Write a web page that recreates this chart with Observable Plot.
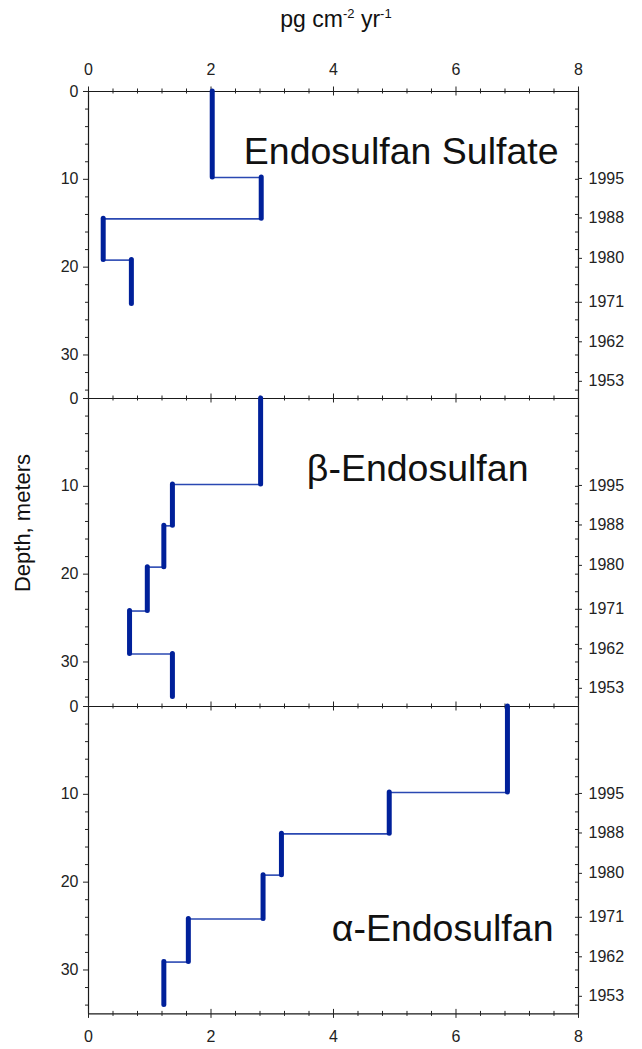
<!DOCTYPE html>
<html><head><meta charset="utf-8">
<script src="https://cdn.jsdelivr.net/npm/d3@7"></script>
<script src="https://cdn.jsdelivr.net/npm/@observablehq/plot@0.6"></script>
<style>
body{margin:0;background:#fff;}
#wrap{position:relative;width:642px;height:1049px;font-family:"Liberation Sans",Arial,sans-serif;color:#111;}
#wrap .panel{position:absolute;left:0;}
#title{position:absolute;top:6px;left:0;width:642px;text-align:center;font-size:23px;padding-left:30px;box-sizing:border-box;}
#title sup{font-size:13px;}
#ylab{position:absolute;left:23px;top:523px;transform:translate(-50%,-50%) rotate(-90deg);font-size:22px;white-space:nowrap;}
</style></head><body>
<div id="wrap">
<div id="title">pg cm<sup>-2</sup> yr<sup>-1</sup></div>
<div id="ylab">Depth, meters</div>
</div>
<script>
// ---- data ----
const layerTop    = [0, 9.8, 14.5, 19.2, 24.2, 29.1];
const layerBottom = [9.8, 14.5, 19.2, 24.2, 29.1, 34.0];
const sulfate = [2.02, 2.82, 0.24, 0.70];
const beta    = [2.81, 1.37, 1.23, 0.96, 0.67, 1.37];
const alpha   = [6.84, 4.91, 3.15, 2.85, 1.63, 1.23];
const panelNames = ["Endosulfan Sulfate", "β-Endosulfan", "α-Endosulfan"];
const years      = ["1995", "1988", "1980", "1971", "1962", "1953"];
const yearDepths = [9.9, 14.4, 19.0, 24.0, 28.5, 33.0];
const xMajor = [0, 2, 4, 6, 8];
const depthMajor = [0, 10, 20, 30];

// ---- layout ----
const W = 642, mL = 88, mR = 64, panelH = 307.4;
const xMinor = d3.range(0, 21).map(k => +(k * 0.4).toFixed(1));
const yMinor = d3.range(0, 18).map(k => k * 2);
const axisColor = "#1a1a1a", tickColor = "#222";
const thick = "#00209a", thin = "#2a48b2";
const font = "Liberation Sans, Arial, sans-serif";
const tickFont = 16, nameFont = 37.5;

function panel(values, name, cfg) {
  const segs = values.map((v, i) => ({x: v, y1: layerTop[i], y2: layerBottom[i]}));
  const links = values.slice(1).map((v, i) => ({y: layerTop[i + 1], x1: values[i], x2: v}));
  const marks = [
    Plot.ruleX([0, 8], {x: d => d, y1: 0, y2: 35, stroke: axisColor, strokeWidth: 1.2}),
    Plot.ruleY([0], {y: d => d, x1: 0, x2: 8, stroke: axisColor, strokeWidth: 1.2}),
    // top x ticks (crossing the line)
    Plot.ruleX(xMinor.filter(v => !xMajor.includes(v)), {x: d => d, y1: 0, y2: 0, insetTop: -2.5, insetBottom: -2.5, stroke: tickColor}),
    Plot.ruleX(xMajor, {x: d => d, y1: 0, y2: 0, insetTop: -4.5, insetBottom: -4.5, stroke: tickColor}),
    // left y ticks (outward)
    Plot.ruleY(yMinor.filter(v => !depthMajor.includes(v)), {y: d => d, x1: 0, x2: 0, insetLeft: -3, insetRight: 0, stroke: tickColor}),
    Plot.ruleY(depthMajor, {y: d => d, x1: 0, x2: 0, insetLeft: -5, insetRight: 0, stroke: tickColor}),
    Plot.text(depthMajor, {x: 0, y: d => d, text: d => String(d), textAnchor: "end", dx: -10, fontSize: tickFont, fill: "#222"}),
    // right axis: minor ticks inward, year ticks crossing
    Plot.ruleY(yMinor, {y: d => d, x1: 8, x2: 8, insetLeft: -3, insetRight: 0, stroke: tickColor}),
    Plot.ruleY(yearDepths, {y: d => d, x1: 8, x2: 8, insetLeft: 0, insetRight: -4, stroke: tickColor}),
    Plot.text(years, {x: 8, y: (d, i) => yearDepths[i], text: d => d, textAnchor: "start", dx: 10, fontSize: tickFont, fill: "#222"}),
    // data: thin connectors then thick layer segments
    Plot.ruleY(links, {y: "y", x1: "x1", x2: "x2", stroke: thin, strokeWidth: 1.6}),
    Plot.ruleX(segs, {x: "x", y1: "y1", y2: "y2", stroke: thick, strokeWidth: 5, strokeLinecap: "round"}),
    Plot.text([name], {frameAnchor: "top-right", dx: cfg.dx, dy: cfg.dy, textAnchor: "end", lineAnchor: "bottom", fontSize: nameFont, fill: "#111"})
  ];
  if (cfg.topLabels) marks.push(Plot.text(xMajor, {x: d => d, y: 0, text: d => String(d), dy: -22, fontSize: tickFont, fill: "#222"}));
  if (cfg.bottom) {
    marks.push(
      Plot.ruleY([35], {y: d => d, x1: 0, x2: 8, stroke: axisColor, strokeWidth: 1.2}),
      Plot.ruleX(xMinor.filter(v => !xMajor.includes(v)), {x: d => d, y1: 35, y2: 35, insetTop: -2.5, insetBottom: -2.5, stroke: tickColor}),
      Plot.ruleX(xMajor, {x: d => d, y1: 35, y2: 35, insetTop: -4.5, insetBottom: -4.5, stroke: tickColor}),
      Plot.text(xMajor, {x: d => d, y: 35, text: d => String(d), dy: 23, fontSize: tickFont, fill: "#222"})
    );
  }
  const svg = Plot.plot({
    width: W,
    height: cfg.mt + panelH + cfg.mb,
    marginLeft: mL, marginRight: mR, marginTop: cfg.mt, marginBottom: cfg.mb,
    x: {domain: [0, 8], axis: null},
    y: {domain: [0, 35], reverse: true, axis: null},
    style: {background: "transparent", overflow: "visible", fontFamily: font},
    marks
  });
  svg.classList.add("panel");
  svg.style.top = cfg.top + "px";
  document.getElementById("wrap").appendChild(svg);
}

panel(sulfate, panelNames[0], {top: 0, mt: 91, mb: 0, dx: -20, dy: 73, topLabels: true});
panel(beta, panelNames[1], {top: 91 + panelH, mt: 0, mb: 0, dx: -50, dy: 83});
panel(alpha, panelNames[2], {top: 91 + 2 * panelH, mt: 0, mb: 36, dx: -25, dy: 235, bottom: true});
</script>
</body></html>
